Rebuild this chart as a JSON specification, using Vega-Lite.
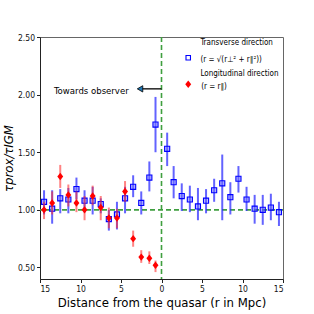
{
  "$schema": "https://vega.github.io/schema/vega-lite/v6.json",
  "width": 243,
  "height": 242,
  "autosize": "none",
  "padding": {"left": 40, "top": 37, "right": 31, "bottom": 35},
  "background": "white",
  "config": {
    "font": "Liberation Sans Narrow, DejaVu Sans Condensed, Liberation Sans",
    "view": {"stroke": "#666666", "strokeWidth": 1},
    "axis": {"grid": false, "domainColor": "#222222", "tickColor": "#222222", "labelColor": "#111111", "titleColor": "#000000", "labelFontSize": 8.5, "tickSize": 3.5, "labelPadding": 2, "titleFontWeight": "normal"}
  },
  "datasets": {
    "trans": [
      {"r": -14.5, "v": 1.07, "lo": 0.96, "hi": 1.17},
      {"r": -13.5, "v": 1.01, "lo": 0.88, "hi": 1.17},
      {"r": -12.5, "v": 1.10, "lo": 0.97, "hi": 1.18},
      {"r": -11.5, "v": 1.09, "lo": 0.97, "hi": 1.19},
      {"r": -10.5, "v": 1.18, "lo": 1.09, "hi": 1.28},
      {"r": -9.5, "v": 1.08, "lo": 0.98, "hi": 1.17},
      {"r": -8.5, "v": 1.08, "lo": 0.96, "hi": 1.20},
      {"r": -7.5, "v": 1.05, "lo": 0.97, "hi": 1.10},
      {"r": -6.5, "v": 0.92, "lo": 0.82, "hi": 1.00},
      {"r": -5.5, "v": 0.96, "lo": 0.83, "hi": 1.07},
      {"r": -4.5, "v": 1.10, "lo": 0.97, "hi": 1.20},
      {"r": -3.5, "v": 1.20, "lo": 1.11, "hi": 1.30},
      {"r": -2.5, "v": 1.06, "lo": 0.96, "hi": 1.16},
      {"r": -1.5, "v": 1.28, "lo": 1.16, "hi": 1.42},
      {"r": -0.74, "v": 1.74, "lo": 1.50, "hi": 1.98},
      {"r": 0.7, "v": 1.53, "lo": 1.38, "hi": 1.67},
      {"r": 1.5, "v": 1.24, "lo": 1.10, "hi": 1.38},
      {"r": 2.5, "v": 1.12, "lo": 0.99, "hi": 1.23},
      {"r": 3.5, "v": 1.09, "lo": 0.98, "hi": 1.21},
      {"r": 4.5, "v": 1.03, "lo": 0.91, "hi": 1.19},
      {"r": 5.5, "v": 1.08, "lo": 0.97, "hi": 1.18},
      {"r": 6.5, "v": 1.17, "lo": 1.07, "hi": 1.27},
      {"r": 7.5, "v": 1.23, "lo": 0.91, "hi": 1.48},
      {"r": 8.5, "v": 1.11, "lo": 0.96, "hi": 1.24},
      {"r": 9.5, "v": 1.27, "lo": 1.15, "hi": 1.38},
      {"r": 10.5, "v": 1.09, "lo": 0.99, "hi": 1.20},
      {"r": 11.5, "v": 1.01, "lo": 0.88, "hi": 1.13},
      {"r": 12.5, "v": 1.00, "lo": 0.87, "hi": 1.13},
      {"r": 13.5, "v": 1.02, "lo": 0.91, "hi": 1.14},
      {"r": 14.5, "v": 0.98, "lo": 0.86, "hi": 1.07}
    ],
    "long": [
      {"r": -14.5, "v": 1.00, "lo": 0.92, "hi": 1.07},
      {"r": -13.5, "v": 1.06, "lo": 0.96, "hi": 1.16},
      {"r": -12.5, "v": 1.29, "lo": 1.19, "hi": 1.39},
      {"r": -11.5, "v": 1.13, "lo": 1.03, "hi": 1.22},
      {"r": -10.5, "v": 1.06, "lo": 0.98, "hi": 1.16},
      {"r": -9.5, "v": 1.00, "lo": 0.91, "hi": 1.12},
      {"r": -8.5, "v": 1.12, "lo": 1.04, "hi": 1.21},
      {"r": -7.5, "v": 1.02, "lo": 0.91, "hi": 1.12},
      {"r": -6.5, "v": 0.93, "lo": 0.84, "hi": 1.02},
      {"r": -5.5, "v": 0.93, "lo": 0.84, "hi": 1.01},
      {"r": -4.5, "v": 1.16, "lo": 1.07, "hi": 1.25},
      {"r": -3.5, "v": 0.75, "lo": 0.68, "hi": 0.82},
      {"r": -2.5, "v": 0.59, "lo": 0.54, "hi": 0.65},
      {"r": -1.5, "v": 0.58, "lo": 0.53, "hi": 0.64},
      {"r": -0.74, "v": 0.52, "lo": 0.46, "hi": 0.56}
    ],
    "legend": [
      {"x": 4.8, "y": 2.445, "t": "Transverse direction"},
      {"x": 4.8, "y": 2.30, "t": "(r = √(r⊥² + r∥²))"},
      {"x": 4.8, "y": 2.175, "t": "Longitudinal direction"},
      {"x": 4.9, "y": 2.07, "t": "(r = r∥)"}
    ]
  },
  "layer": [
    {
      "data": {"values": [{"y": 1}]},
      "mark": {"type": "rule", "color": "#3f9f3f", "strokeWidth": 1.6, "strokeDash": [5, 3]},
      "encoding": {"y": {"field": "y", "type": "quantitative"}}
    },
    {
      "data": {"values": [{"x": 0}]},
      "mark": {"type": "rule", "color": "#3f9f3f", "strokeWidth": 1.6, "strokeDash": [5, 3]},
      "encoding": {"x": {"field": "x", "type": "quantitative"}}
    },
    {
      "data": {"name": "trans"},
      "mark": {"type": "rule", "color": "#2f2fff", "opacity": 0.75, "strokeWidth": 2},
      "encoding": {
        "x": {"field": "r", "type": "quantitative", "scale": {"domain": [-15, 15], "nice": false}, "axis": {"values": [-15, -10, -5, 0, 5, 10, 15], "labelExpr": "abs(datum.value)", "title": "Distance from the quasar (r in Mpc)", "titleFontSize": 13, "titlePadding": 3}},
        "y": {"field": "lo", "type": "quantitative", "scale": {"domain": [0.4, 2.5], "nice": false, "zero": false}, "axis": {"values": [0.5, 0.75, 1.0, 1.25, 1.5, 1.75, 2.0, 2.25, 2.5], "format": ".2f", "title": "τprox/τIGM", "titleFontSize": 13, "titleFontStyle": "italic", "titlePadding": 2}},
        "y2": {"field": "hi"}
      }
    },
    {
      "data": {"name": "trans"},
      "mark": {"type": "point", "shape": "square", "size": 26, "filled": false, "stroke": "#0000ff", "strokeWidth": 1.1, "fill": "#6a6aff", "fillOpacity": 0.45, "opacity": 1},
      "encoding": {
        "x": {"field": "r", "type": "quantitative"},
        "y": {"field": "v", "type": "quantitative"}
      }
    },
    {
      "data": {"name": "long"},
      "mark": {"type": "rule", "color": "#ff3030", "opacity": 0.6, "strokeWidth": 2},
      "encoding": {
        "x": {"field": "r", "type": "quantitative"},
        "y": {"field": "lo", "type": "quantitative"},
        "y2": {"field": "hi"}
      }
    },
    {
      "data": {"name": "long"},
      "mark": {"type": "point", "shape": "M-0.8,0L0,-1L0.8,0L0,1Z", "size": 55, "filled": true, "color": "#ff0000", "opacity": 1},
      "encoding": {
        "x": {"field": "r", "type": "quantitative"},
        "y": {"field": "v", "type": "quantitative"}
      }
    },
    {
      "data": {"values": [{"x1": -2.8, "x2": 0, "y": 2.05}]},
      "mark": {"type": "rule", "color": "#000000", "strokeWidth": 1.3},
      "encoding": {
        "x": {"field": "x1", "type": "quantitative"},
        "x2": {"field": "x2"},
        "y": {"field": "y", "type": "quantitative"}
      }
    },
    {
      "data": {"values": [{"x": -2.65, "y": 2.05}]},
      "mark": {"type": "point", "shape": "triangle-left", "size": 40, "filled": true, "fill": "#1f77b4", "stroke": "#000000", "strokeWidth": 0.8, "opacity": 1},
      "encoding": {
        "x": {"field": "x", "type": "quantitative"},
        "y": {"field": "y", "type": "quantitative"}
      }
    },
    {
      "data": {"values": [{"x": -4.05, "y": 2.035, "t": "Towards observer"}]},
      "mark": {"type": "text", "align": "right", "baseline": "middle", "fontSize": 9.5, "color": "#000000"},
      "encoding": {
        "x": {"field": "x", "type": "quantitative"},
        "y": {"field": "y", "type": "quantitative"},
        "text": {"field": "t"}
      }
    },
    {
      "data": {"values": [{"x": 3.3, "y": 2.32}]},
      "mark": {"type": "point", "shape": "square", "size": 20, "filled": false, "stroke": "#0000ff", "strokeWidth": 1.1, "fill": "#ffffff", "opacity": 1},
      "encoding": {
        "x": {"field": "x", "type": "quantitative"},
        "y": {"field": "y", "type": "quantitative"}
      }
    },
    {
      "data": {"values": [{"x": 3.3, "y": 2.09}]},
      "mark": {"type": "point", "shape": "M-0.8,0L0,-1L0.8,0L0,1Z", "size": 55, "filled": true, "color": "#ff0000", "opacity": 1},
      "encoding": {
        "x": {"field": "x", "type": "quantitative"},
        "y": {"field": "y", "type": "quantitative"}
      }
    },
    {
      "data": {"name": "legend"},
      "mark": {"type": "text", "align": "left", "baseline": "middle", "fontSize": 8, "color": "#000000"},
      "encoding": {
        "x": {"field": "x", "type": "quantitative"},
        "y": {"field": "y", "type": "quantitative"},
        "text": {"field": "t"}
      }
    }
  ]
}
